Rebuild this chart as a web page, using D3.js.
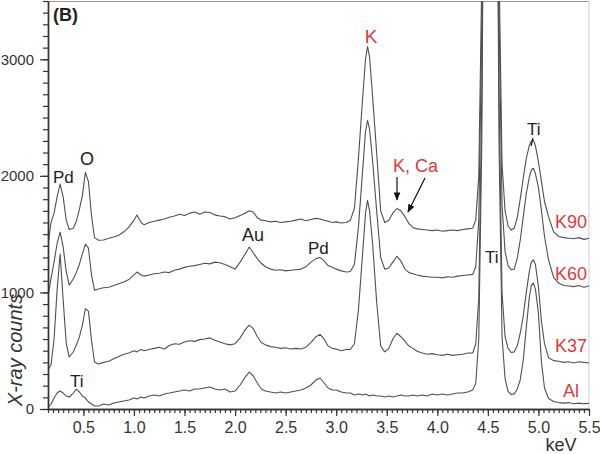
<!DOCTYPE html>
<html>
<head>
<meta charset="utf-8">
<script src="https://cdn.jsdelivr.net/npm/d3@7"></script>
<style>
  body { margin: 0; background: #fff; }
  svg text { font-family: "Liberation Sans", Arial, sans-serif; }
</style>
</head>
<body>
<svg width="600" height="454"></svg>
<script>
// energies (keV), shared by all four spectra
const ENERGY = [
  0.15, 0.18, 0.21, 0.24, 0.27, 0.30, 0.33, 0.36,
  0.40, 0.43, 0.46, 0.49, 0.52, 0.55, 0.58, 0.61,
  0.65, 0.70, 0.75, 0.80, 0.85, 0.90, 0.95, 1.00,
  1.03, 1.07, 1.10,
  1.15, 1.20, 1.25, 1.30, 1.35, 1.40, 1.45, 1.50, 1.55, 1.60, 1.65, 1.70, 1.75, 1.80, 1.85, 1.90, 1.95, 2.00, 2.05,
  2.10, 2.14, 2.18, 2.22, 2.26,
  2.30, 2.35, 2.40, 2.45, 2.50, 2.55, 2.60, 2.65, 2.70, 2.75, 2.80,
  2.84, 2.88, 2.92, 2.96,
  3.00, 3.05, 3.10,
  3.14, 3.18, 3.22, 3.26, 3.29, 3.31, 3.33, 3.36,
  3.40, 3.44, 3.48, 3.52, 3.56, 3.60, 3.64, 3.68, 3.72, 3.76, 3.80,
  3.85, 3.90, 3.95, 4.00, 4.05, 4.10, 4.15, 4.20, 4.25, 4.30, 4.35,
  4.38, 4.41, 4.44, 4.47, 4.50, 4.525, 4.55, 4.58, 4.61, 4.64, 4.67, 4.70, 4.73, 4.76, 4.79, 4.82, 4.85, 4.88, 4.91, 4.93, 4.95, 4.97, 5.00, 5.03, 5.06,
  5.10, 5.15, 5.20, 5.25, 5.30, 5.35, 5.40, 5.45, 5.50
]

// X-ray counts
const AL = [
  20, 40, 95, 137, 155, 137, 111, 103,
  137, 171, 146, 111, 94, 60, 43, 26,
  26, 43, 34, 51, 60, 69, 77, 94,
  86, 103, 94,
  111, 120, 111, 129, 137, 146, 154, 163, 154, 171, 171, 180, 189, 171, 163, 171, 146, 154, 206,
  274, 317, 283, 223, 171,
  154, 146, 137, 146, 137, 146, 154, 163, 180, 206, 249,
  266, 223, 180, 163,
  163, 146, 137,
  137, 120, 129, 120, 129, 120, 111, 120,
  111, 111, 103, 111, 103, 111, 120, 111, 111, 120, 111,
  120, 111, 129, 120, 129, 120, 129, 137, 137, 146, 163,
  220, 600, 2300, 6500, 12000, 14000, 12000, 6500, 2300, 620, 260, 150, 125, 130, 170, 250, 420, 700, 960, 1060, 1080, 1030, 820, 400, 180,
  90, 65, 55, 50, 55, 45, 50, 45, 48
]

const K37 = [
  334, 380, 600, 1020, 1330, 934, 566, 446,
  489, 548, 617, 720, 860, 840, 591, 403,
  386, 400, 410, 430, 450, 470, 480, 500,
  490, 510, 500,
  510, 520, 530, 515, 545, 560, 555, 575, 585, 580, 595, 600, 610, 590, 575, 560, 550, 560, 610,
  680, 720, 690, 620, 570,
  550, 535, 530, 520, 525, 515, 520, 515, 530, 570, 620,
  640, 600, 540, 520,
  515, 500, 510,
  510, 560, 850, 1320, 1680, 1790, 1700, 1420,
  920, 540, 490, 520, 600, 650, 620, 580, 540, 520, 495,
  480, 470, 475, 465, 460, 470, 460, 465, 470, 480, 480,
  560, 950, 2650, 6900, 12400, 14400, 12400, 6900, 2700, 1000, 620, 520, 485, 490, 540, 650, 800, 1000, 1180, 1260, 1280, 1240, 1050, 750, 560,
  440, 415, 410, 400, 405, 395, 405, 400, 395
]

const K60 = [
  960, 1120, 1260, 1420, 1517, 1390, 1180, 1063,
  1115, 1170, 1240, 1330, 1414, 1380, 1150, 1020,
  1030, 1040, 1045, 1060, 1075, 1090, 1110, 1150,
  1175, 1150, 1140,
  1150, 1160, 1165, 1175, 1170, 1190, 1200, 1215, 1225, 1230, 1240, 1250, 1245, 1260, 1255, 1240, 1220, 1200, 1260,
  1330, 1390, 1340, 1290, 1250,
  1220, 1200, 1190, 1195, 1185, 1190, 1195, 1200, 1220, 1260, 1290,
  1300, 1270, 1230, 1215,
  1200, 1185, 1175,
  1180, 1240, 1560, 2030, 2380, 2477, 2400, 2130,
  1700, 1300, 1200, 1210, 1260, 1310, 1270, 1200, 1170, 1160, 1150,
  1140, 1135, 1130, 1130, 1125, 1135, 1130, 1140, 1145, 1150, 1155,
  1220, 1620, 3300, 7600, 13100, 15100, 13100, 7600, 3400, 1750, 1350, 1230, 1195, 1200, 1290, 1450, 1650, 1850, 1990, 2050, 2065, 2020, 1900, 1700, 1480,
  1280, 1130, 1080, 1060, 1055, 1050, 1060, 1045, 1055
]

const K90 = [
  1405, 1600, 1680, 1820, 1930, 1820, 1620, 1540,
  1550, 1610, 1710, 1830, 2030, 1950, 1660, 1470,
  1448, 1450, 1465, 1475, 1490, 1520, 1560, 1620,
  1665, 1600, 1580,
  1600, 1610, 1620, 1630, 1645, 1655, 1670, 1660, 1680, 1690, 1670, 1690, 1685, 1665, 1655, 1650, 1630, 1640, 1660,
  1680, 1700, 1690, 1640, 1620,
  1615, 1605, 1610, 1600, 1605, 1610, 1620, 1630, 1615, 1625, 1635,
  1630, 1620, 1610, 1600,
  1605, 1595, 1600,
  1620, 1720, 2150, 2650, 3000, 3110, 3020, 2680,
  2200, 1700, 1600, 1620, 1680, 1720, 1700, 1650, 1590, 1555, 1545,
  1540, 1535, 1530, 1535, 1525, 1530, 1535, 1530, 1540, 1545, 1550,
  1620, 2000, 3700, 8000, 13500, 15500, 13500, 8000, 3800, 2100, 1700, 1570, 1535, 1550, 1640, 1800, 1980, 2150, 2260, 2300, 2305, 2260, 2120, 1950, 1780,
  1650, 1520, 1480, 1470, 1465, 1460, 1470, 1455, 1465
]

const SAMPLES = ['Al', 'K37', 'K60', 'K90']
const SPECTRA = [AL, K37, K60, K90]
const X_TICKS = [0.5, 1.0, 1.5, 2.0, 2.5, 3.0, 3.5, 4.0, 4.5, 5.0, 5.5]
const Y_TICKS = [0, 1000, 2000, 3000]

const RED = '#e2383c'
const INK = '#222'

const svg = d3.select('svg')

const x = d3.scaleLinear().domain([0.15, 5.5]).range([48, 589])
const y = d3.scaleLinear().domain([0, 3500]).range([409, 1])

svg.append('defs').append('clipPath').attr('id', 'plot')
  .append('rect').attr('x', 48).attr('y', 1).attr('width', 541).attr('height', 408)

// frame (top and right, light)
svg.append('line').attr('x1', 48).attr('x2', 589).attr('y1', 1.5).attr('y2', 1.5)
  .attr('stroke', '#999').attr('stroke-width', 1)
svg.append('line').attr('x1', 589).attr('x2', 589).attr('y1', 1).attr('y2', 409)
  .attr('stroke', '#ccc').attr('stroke-width', 1)

// spectra
const line = d3.line()
  .x((d, i) => x(ENERGY[i]))
  .y(d => y(d))

svg.append('g').attr('clip-path', 'url(#plot)')
  .selectAll('path')
  .data(SPECTRA)
  .enter()
  .append('path')
  .attr('d', line)
  .attr('fill', 'none')
  .attr('stroke', '#505050')
  .attr('stroke-width', 1.1)
  .attr('stroke-linejoin', 'round')

// axes
function styleAxis(g) {
  g.select('.domain').attr('stroke', '#333').attr('stroke-width', 1.4)
  g.selectAll('.tick line').attr('stroke', '#333').attr('stroke-width', 1.2)
  g.selectAll('.tick text').attr('fill', '#333').style('font-size', '15px')
}

const xMinor = d3.range(0, 108).map(i => +(0.15 + i * 0.05).toFixed(2))
svg.append('g').attr('transform', 'translate(0,409)')
  .call(d3.axisBottom(x).tickValues(xMinor).tickSize(4).tickSizeOuter(0).tickFormat(''))
  .call(styleAxis)
svg.append('g').attr('transform', 'translate(0,409)')
  .call(d3.axisBottom(x).tickValues(X_TICKS).tickSize(7).tickSizeOuter(0).tickPadding(6)
    .tickFormat(d3.format('.1f')))
  .call(styleAxis)
  .call(g => g.selectAll('.tick text').style('font-size', '16px'))

const yMinor = d3.range(0, 3501, 100)
svg.append('g').attr('transform', 'translate(48,0)')
  .call(d3.axisLeft(y).tickValues(yMinor).tickSize(5).tickSizeOuter(0).tickFormat(''))
  .call(styleAxis)
svg.append('g').attr('transform', 'translate(48,0)')
  .call(d3.axisLeft(y).tickValues(Y_TICKS).tickSize(8).tickSizeOuter(0).tickPadding(6)
    .tickFormat(d3.format('d')))
  .call(styleAxis)

// axis titles
svg.append('text').attr('x', 561).attr('y', 451).attr('text-anchor', 'middle')
  .attr('fill', '#333').style('font-size', '18px').text('keV')
svg.append('text').attr('transform', 'translate(22,350) rotate(-90)')
  .attr('text-anchor', 'middle').attr('fill', '#333')
  .style('font-size', '20px').style('font-style', 'italic').text('X-ray counts')

svg.append('text').attr('x', 53).attr('y', 21).attr('fill', INK)
  .style('font-size', '18px').style('font-weight', 'bold').text('(B)')

// sample names
const nameY = { Al: 397, K37: 352, K60: 280, K90: 228 }
svg.selectAll('.sample')
  .data(SAMPLES)
  .enter()
  .append('text')
  .attr('x', 571)
  .attr('y', d => nameY[d])
  .attr('text-anchor', 'middle')
  .attr('fill', RED)
  .style('font-size', '18px')
  .text(d => d)

// peak labels
const labels = [
  { t: 'K', x: 371, y: 43, c: RED, a: 'middle', s: 19 },
  { t: 'K, Ca', x: 393, y: 172, c: RED, a: 'start', s: 18 },
  { t: 'Ti', x: 527, y: 135, c: INK, a: 'start', s: 17 },
  { t: 'Ti', x: 485, y: 263, c: INK, a: 'start', s: 17 },
  { t: 'Pd', x: 53, y: 183, c: INK, a: 'start', s: 17 },
  { t: 'O', x: 80, y: 165, c: INK, a: 'start', s: 18 },
  { t: 'Au', x: 242, y: 241, c: INK, a: 'start', s: 18 },
  { t: 'Pd', x: 308, y: 254, c: INK, a: 'start', s: 17 },
  { t: 'Ti', x: 70, y: 387, c: INK, a: 'start', s: 17 }
]
svg.selectAll('.lab')
  .data(labels)
  .enter()
  .append('text')
  .attr('x', d => d.x)
  .attr('y', d => d.y)
  .attr('text-anchor', d => d.a)
  .attr('fill', d => d.c)
  .style('font-size', d => d.s + 'px')
  .text(d => d.t)

// arrows
svg.select('defs').append('marker')
  .attr('id', 'head').attr('viewBox', '0 0 10 10').attr('refX', 9).attr('refY', 5)
  .attr('markerWidth', 7).attr('markerHeight', 7).attr('orient', 'auto')
  .append('path').attr('d', 'M0,1 L10,5 L0,9 Z').attr('fill', '#111')
const arrows = [
  [397, 177, 397, 200],
  [425, 178, 408, 212],
  [533, 138, 531, 146]
]
svg.selectAll('.arr')
  .data(arrows)
  .enter()
  .append('line')
  .attr('x1', d => d[0]).attr('y1', d => d[1])
  .attr('x2', d => d[2]).attr('y2', d => d[3])
  .attr('stroke', '#111').attr('stroke-width', 1.2)
  .attr('marker-end', (d, i) => i < 2 ? 'url(#head)' : null)
</script>
</body>
</html>
